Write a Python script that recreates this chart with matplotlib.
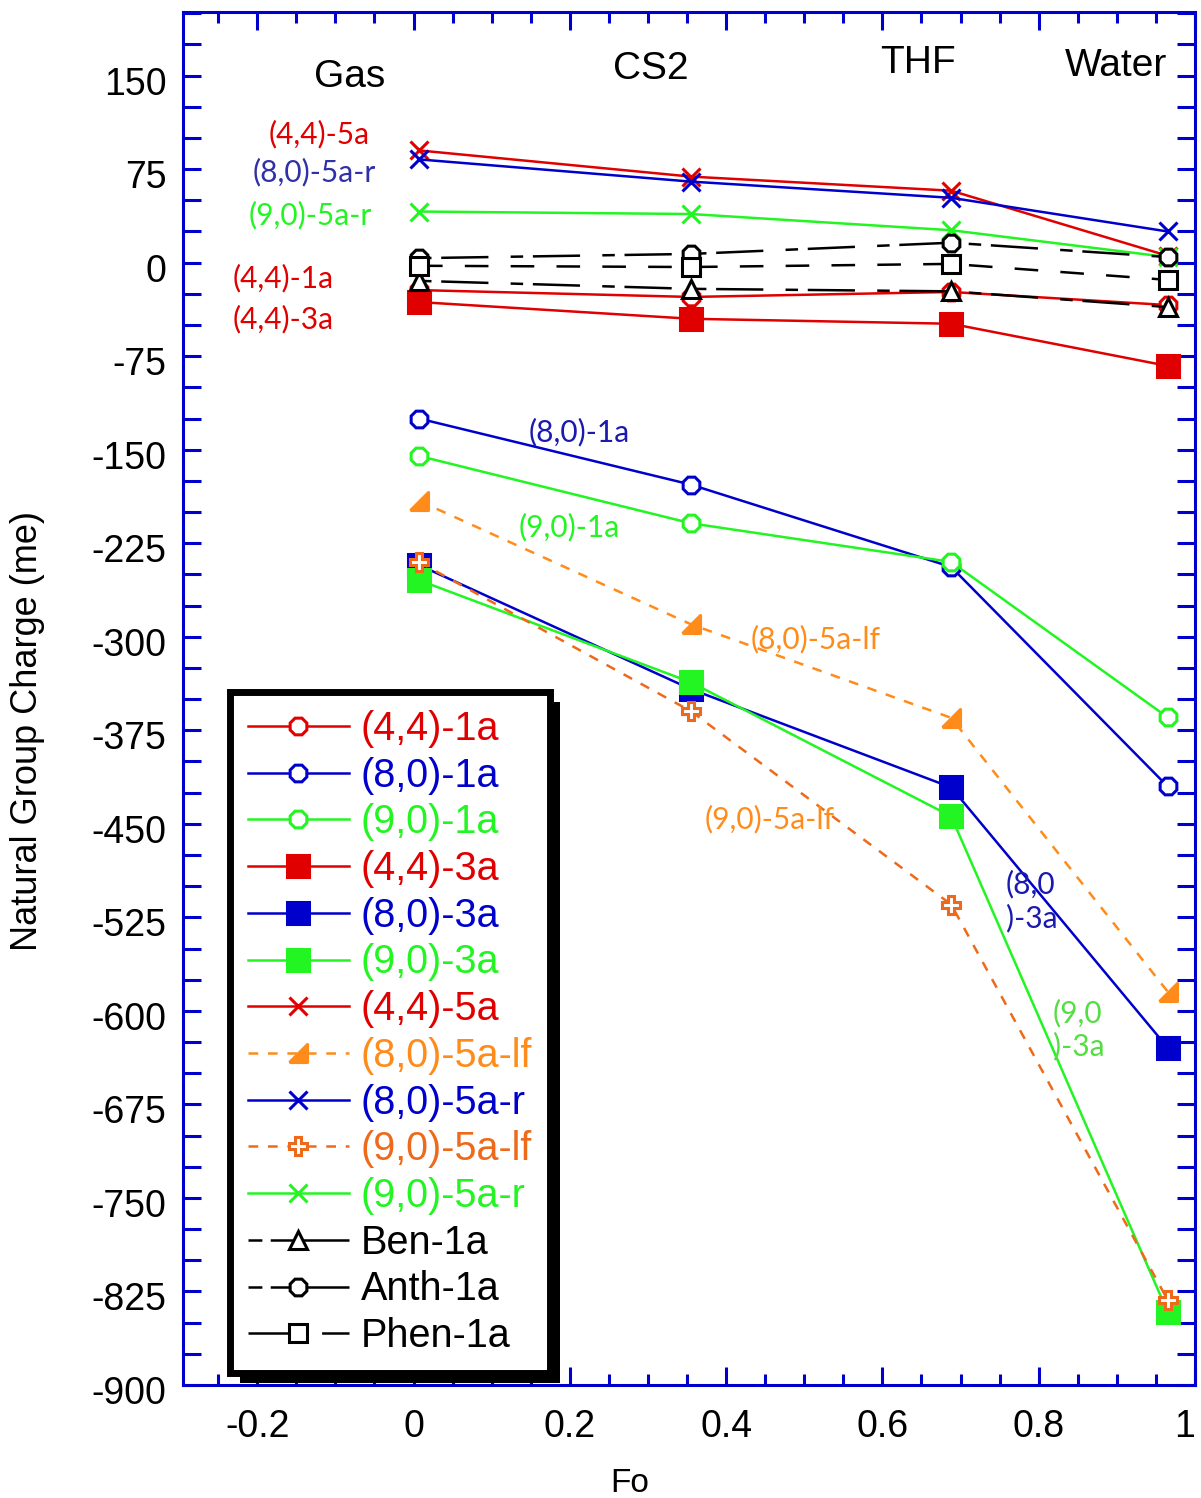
import matplotlib

matplotlib.use("Agg")
import matplotlib.pyplot as plt
import matplotlib.patheffects as pe
from matplotlib.lines import Line2D
from matplotlib.ticker import FixedLocator, MultipleLocator
from matplotlib.transforms import ScaledTranslation

# --- Data (x = Fo of the solvent) ---
FO = [0.007, 0.355, 0.688, 0.965]
SOLVENTS = ["Gas", "CS2", "THF", "Water"]

C44_1A = [-22, -27.5, -23.5, -34]
C80_1A = [-125, -178, -244, -420]
C90_1A = [-155, -209, -240, -364.6]
C44_3A = [-31.6, -45, -49, -82.8]
C80_3A = [-242.5, -342, -420.8, -629.5]
C90_3A = [-254.6, -336.5, -444, -841.4]
C44_5A = [90, 69, 57.7, 5.5]
C80_5A_LF = [-191, -290, -365, -584.5]
C80_5A_R = [82.8, 65, 52, 25]
C90_5A_LF = [-240, -359.7, -514.7, -831.8]
C90_5A_R = [41, 39, 26, 4.5]
BEN_1A = [-14.6, -21, -23, -35.6]
ANTH_1A = [3.6, 7, 16, 4.5]
PHEN_1A = [-2.5, -3.5, -1, -13.8]

XTICKS = [-0.2, 0, 0.2, 0.4, 0.6, 0.8, 1.0]
XTICK_LABELS = ["-0.2", "0", "0.2", "0.4", "0.6", "0.8", "1"]
YTICKS = list(range(-900, 151, 75))

# --- Colours ---
RED = "#E00000"
BLUE = "#0000CC"
GREEN = "#22F522"
ORANGE = "#FF8C1A"
ORANGE_DARK = "#EE6A1A"
BLACK = "black"

plt.rcParams["font.family"] = ["Liberation Sans", "DejaVu Sans"]
plt.rcParams["lines.scale_dashes"] = False
plt.rcParams["axes.unicode_minus"] = False

RIGHT_TRI = [(-1, -1), (1, -1), (1, 1), (-1, -1)]
OCTAGON = (8, 0, 22.5)
LONG_SHORT = (0, (9, 7, 34, 16))
PHEN_DASH = (0, (17, 16))
ORANGE_DASH = (0, (7, 7))

# legend-only dash patterns for the black reference curves
LEGEND_DASH = {
    "Ben-1a": (0, (10, 6, 90)),
    "Anth-1a": (0, (10, 6, 90)),
    "Phen-1a": (0, (43, 10, 60)),
}

series = [
    ("(4,4)-1a", C44_1A, RED, "-", OCTAGON, "white"),
    ("(8,0)-1a", C80_1A, BLUE, "-", OCTAGON, "white"),
    ("(9,0)-1a", C90_1A, GREEN, "-", OCTAGON, "white"),
    ("(4,4)-3a", C44_3A, RED, "-", "s", None),
    ("(8,0)-3a", C80_3A, BLUE, "-", "s", None),
    ("(9,0)-3a", C90_3A, GREEN, "-", "s", None),
    ("(4,4)-5a", C44_5A, RED, "-", "x", None),
    ("(8,0)-5a-lf", C80_5A_LF, ORANGE, ORANGE_DASH, RIGHT_TRI, None),
    ("(8,0)-5a-r", C80_5A_R, BLUE, "-", "x", None),
    ("(9,0)-5a-lf", C90_5A_LF, ORANGE_DARK, ORANGE_DASH, "P", "white"),
    ("(9,0)-5a-r", C90_5A_R, GREEN, "-", "x", None),
    ("Ben-1a", BEN_1A, BLACK, LONG_SHORT, "^", "white"),
    ("Anth-1a", ANTH_1A, BLACK, LONG_SHORT, OCTAGON, "white"),
    ("Phen-1a", PHEN_1A, BLACK, PHEN_DASH, "s", "white"),
]

MARKER_SIZE = {"s": 16, "x": 13, "^": 13, "P": 13}

fig = plt.figure(figsize=(12.01, 14.98), dpi=100)
ax = fig.add_axes([183 / 1201, 113 / 1498, 1012 / 1201, 1373 / 1498])

handles = []
for label, values, color, style, marker, face in series:
    size = MARKER_SIZE.get(marker, 12) if isinstance(marker, str) else 13
    if marker == "s" and face == "white":
        size = 13
    style_kw = dict(
        color=color,
        linewidth=1.8,
        marker=marker,
        markersize=size,
        markerfacecolor=face if face else color,
        markeredgecolor=color,
        markeredgewidth=2.2,
    )
    ax.plot(FO, values, linestyle=style, label=label, **style_kw)
    handles.append(Line2D([], [], linestyle=LEGEND_DASH.get(label, style),
                          label=label, **style_kw))

ax.set_xlim(-0.295, 1.0)
ax.set_ylim(-900, 201)

ax.xaxis.set_major_locator(FixedLocator(XTICKS))
ax.set_xticklabels(XTICK_LABELS)
ax.get_xticklabels()[-1].set_horizontalalignment("right")
ax.xaxis.set_minor_locator(MultipleLocator(0.05))
ax.set_yticks(YTICKS)
ax.yaxis.set_minor_locator(MultipleLocator(25))

for spine in ax.spines.values():
    spine.set_color(BLUE)
    spine.set_linewidth(2.2)

ax.tick_params(axis="both", which="both", direction="in", color=BLUE,
               top=True, right=True, labelsize=27, width=2.2)
ax.tick_params(axis="x", which="major", length=13, pad=17)
ax.tick_params(axis="x", which="minor", length=8)
ax.tick_params(axis="y", which="both", length=13, pad=12)

# the y labels sit a few pixels below their ticks in the original
shift_down = ScaledTranslation(0, -5 / 100, fig.dpi_scale_trans)
for tick_label in ax.get_yticklabels():
    tick_label.set_transform(tick_label.get_transform() + shift_down)

# solvent labels along the top
for name, (x, y) in zip(SOLVENTS, [(-0.082, 149), (0.303, 155), (0.645, 160), (0.899, 158)]):
    ax.text(x, y, name, fontsize=28, ha="center", va="center")

# coloured curve labels
notes = [
    ("(4,4)-5a", -0.121, 103, RED, "center"),
    ("(8,0)-5a-r", -0.127, 73, "#3030A8", "center"),
    ("(9,0)-5a-r", -0.132, 38, GREEN, "center"),
    ("(4,4)-1a", -0.167, -12, RED, "center"),
    ("(4,4)-3a", -0.167, -45, RED, "center"),
    ("(8,0)-1a", 0.2115, -136, "#1A1AB0", "center"),
    ("(9,0)-1a", 0.199, -212, GREEN, "center"),
    ("(8,0)-5a-lf", 0.514, -302, ORANGE, "center"),
    ("(9,0)-5a-lf", 0.456, -446, ORANGE, "center"),
    ("(8,0\n)-3a", 0.758, -512, "#1A1AB0", "left"),
    ("(9,0\n)-3a", 0.818, -615, "#55DD44", "left"),
]
for text, x, y, color, ha in notes:
    ax.text(x, y, text, color=color, fontsize=21.5, ha=ha, va="center",
            family=["Lato", "DejaVu Sans"], linespacing=1.2)

legend = ax.legend(
    handles=handles,
    loc="upper left",
    bbox_to_anchor=(0.0464, 0.5047),
    borderaxespad=0,
    fontsize=28.5,
    labelcolor="linecolor",
    handlelength=2.55,
    handletextpad=0.3,
    labelspacing=0.22,
    borderpad=0.45,
    fancybox=False,
    framealpha=1,
    edgecolor="black",
)
frame = legend.get_frame()
frame.set_linewidth(5)
frame.set_path_effects([
    pe.SimplePatchShadow(offset=(7, -7), shadow_rgbFace="black", alpha=1),
    pe.Normal(),
])

fig.text(28 / 1201, 1 - 731 / 1498, "Natural Group Charge (me)", rotation=90,
         fontsize=26, ha="center", va="center")
fig.text(630 / 1201, 1 - 1483 / 1498, "Fo", fontsize=24, ha="center", va="center")

fig.savefig("out.png", dpi=100)
